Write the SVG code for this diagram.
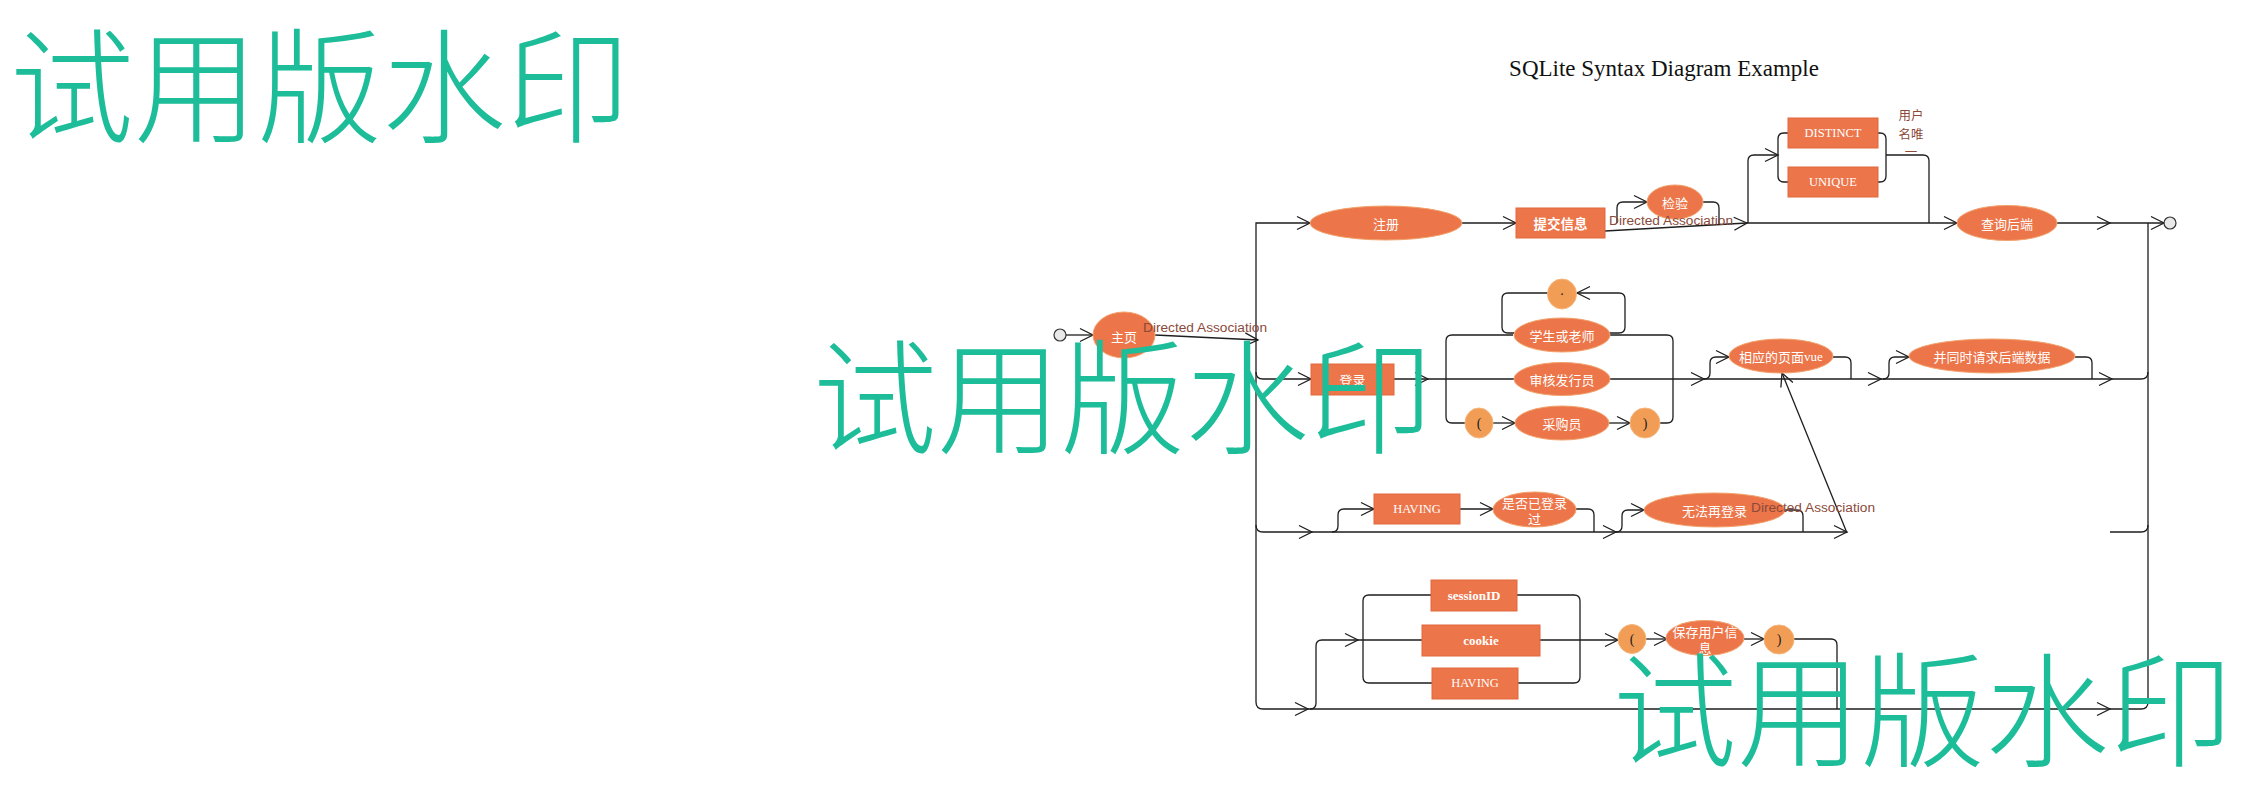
<svg xmlns="http://www.w3.org/2000/svg" width="2245" height="794" viewBox="0 0 2245 794">
<style>
.ln{fill:none;stroke:#1e1e1e;stroke-width:1.3}
.el{fill:#EC754A;stroke:#F2A26C;stroke-width:1}
.sm{fill:#F29D56;stroke:#F5B57A;stroke-width:1}
.rc{fill:#EC754A;stroke:#E2693A;stroke-width:1}
.term{fill:#e9e9e9;stroke:#333;stroke-width:1.2}
.t{font-family:"Noto Sans CJK SC","Noto Sans",sans-serif;font-size:13px;fill:#fff;text-anchor:middle;dominant-baseline:central}
.tbd{font-family:"Noto Sans CJK SC","Noto Sans",sans-serif;font-size:13.5px;font-weight:bold;fill:#fff;text-anchor:middle;dominant-baseline:central}
.ts{font-family:"Liberation Serif",serif;font-size:12.5px;fill:#fff;text-anchor:middle;dominant-baseline:central}
.tb{font-family:"Liberation Serif",serif;font-size:13px;font-weight:bold;fill:#fff;text-anchor:middle;dominant-baseline:central}
.pd{font-family:"Liberation Serif",serif;font-size:14px;fill:#222;text-anchor:middle;dominant-baseline:central}
.lb{font-family:"Liberation Sans",sans-serif;font-size:13.7px;fill:#8B4A3A;dominant-baseline:central}
.lbc{font-family:"Noto Sans CJK SC",sans-serif;font-size:12.5px;fill:#8B4A3A;text-anchor:middle;dominant-baseline:central}
.title{font-family:"Liberation Serif",serif;font-size:23px;fill:#111;text-anchor:middle}
.wm{font-family:"Noto Sans CJK SC",sans-serif;font-size:124px;font-weight:300;fill:#1DBD9A}
</style>
<defs>
<path id="ah" d="M-13,-6.5 L0,0 L-13,6.5" class="ln"/>
</defs>
<rect width="2245" height="794" fill="#fff"/>
<text class="title" x="1664" y="76">SQLite Syntax Diagram Example</text>

<g id="connectors">
<!-- start -->
<path class="ln" d="M1066,335 L1093,335"/>
<use href="#ah" x="1093" y="335"/>
<path class="ln" d="M1155,335 L1258,340"/>
<use href="#ah" transform="translate(1258,340) rotate(2.8)"/>
<!-- buses -->
<path class="ln" d="M1310,223 L1256,223 L1256,702 Q1256,709 1263,709 L2141,709 Q2148,709 2148,702 L2148,223"/>
<!-- row 1 -->
<use href="#ah" x="1310" y="223"/>
<path class="ln" d="M1462,223 L1516,223"/>
<use href="#ah" x="1516" y="223"/>
<path class="ln" d="M1605,231 L1747,223"/>
<use href="#ah" transform="translate(1747,223) rotate(-3.2)"/>
<path class="ln" d="M1617,223 L1617,208 Q1617,202 1623,202 L1647,202"/>
<use href="#ah" x="1647" y="202"/>
<path class="ln" d="M1703,202 L1713,202 Q1719,202 1719,208 L1719,224"/>
<path class="ln" d="M1747,223 L1957,223"/>
<use href="#ah" x="1957" y="223"/>
<path class="ln" d="M1748,223 L1748,161 Q1748,155 1754,155 L1778,155"/>
<use href="#ah" x="1778" y="155"/>
<path class="ln" d="M1788,133 L1784,133 Q1778,133 1778,139 L1778,176 Q1778,182 1784,182 L1788,182"/>
<path class="ln" d="M1878,133 L1880,133 Q1886,133 1886,139 L1886,176 Q1886,182 1880,182 L1878,182"/>
<path class="ln" d="M1886,155 L1923,155 Q1929,155 1929,161 L1929,223"/>
<path class="ln" d="M2057,223 L2164,223"/>
<use href="#ah" x="2110" y="223"/>
<use href="#ah" x="2164" y="223"/>
<!-- row 2 -->
<path class="ln" d="M1256,372 Q1256,379 1263,379 L2141,379 Q2148,379 2148,372"/>
<use href="#ah" x="1311" y="379"/>
<use href="#ah" x="1428" y="379"/>
<path class="ln" d="M1513,335 L1452,335 Q1446,335 1446,341 L1446,417 Q1446,423 1452,423 L1465,423"/>
<path class="ln" d="M1610,335 L1667,335 Q1673,335 1673,341 L1673,417 Q1673,423 1667,423 L1660,423"/>
<path class="ln" d="M1514,333 L1508,333 Q1502,333 1502,327 L1502,299 Q1502,293 1508,293 L1548,293"/>
<path class="ln" d="M1577,293 L1619,293 Q1625,293 1625,299 L1625,327 Q1625,333 1619,333 L1609,333"/>
<use href="#ah" transform="translate(1577,293) rotate(180)"/>
<path class="ln" d="M1493,423 L1515,423"/>
<use href="#ah" x="1515" y="423"/>
<path class="ln" d="M1609,423 L1630,423"/>
<use href="#ah" x="1630" y="423"/>
<use href="#ah" x="1704" y="379"/>
<path class="ln" d="M1704,379 Q1710,379 1710,373 L1710,363 Q1710,357 1716,357 L1729,357"/>
<use href="#ah" x="1729" y="357"/>
<path class="ln" d="M1833,357 L1845,357 Q1851,357 1851,363 L1851,379"/>
<use href="#ah" x="1881" y="379"/>
<path class="ln" d="M1883,379 Q1889,379 1889,373 L1889,363 Q1889,357 1895,357 L1909,357"/>
<use href="#ah" x="1909" y="357"/>
<path class="ln" d="M2075,357 L2086,357 Q2092,357 2092,363 L2092,379"/>
<use href="#ah" x="2112" y="379"/>
<!-- row 3 -->
<path class="ln" d="M1256,525 Q1256,532 1263,532 L1847,532"/>
<use href="#ah" x="1312" y="532"/>
<path class="ln" d="M1332,532 Q1338,532 1338,526 L1338,515 Q1338,509 1344,509 L1374,509"/>
<use href="#ah" x="1374" y="509"/>
<path class="ln" d="M1460,509 L1493,509"/>
<use href="#ah" x="1493" y="509"/>
<path class="ln" d="M1576,509 L1588,509 Q1594,509 1594,515 L1594,532"/>
<use href="#ah" x="1616" y="532"/>
<path class="ln" d="M1616,532 Q1622,532 1622,526 L1622,516 Q1622,510 1628,510 L1644,510"/>
<use href="#ah" x="1644" y="510"/>
<path class="ln" d="M1785,510 L1797,510 Q1803,510 1803,516 L1803,532"/>
<use href="#ah" x="1847" y="532"/>
<path class="ln" d="M1847,533 L1782,373"/>
<use href="#ah" transform="translate(1782,373) rotate(-112.1)"/>
<path class="ln" d="M2110,532 L2141,532 Q2148,532 2148,525"/>
<!-- row 4 -->
<use href="#ah" x="1308" y="709"/>
<path class="ln" d="M1310,709 Q1316,709 1316,703 L1316,646 Q1316,640 1322,640 L1422,640"/>
<use href="#ah" x="1358" y="640"/>
<path class="ln" d="M1431,595 L1369,595 Q1363,595 1363,601 L1363,677 Q1363,683 1369,683 L1432,683"/>
<path class="ln" d="M1517,595 L1574,595 Q1580,595 1580,601 L1580,677 Q1580,683 1574,683 L1518,683"/>
<path class="ln" d="M1540,640 L1618,640"/>
<use href="#ah" x="1618" y="640"/>
<path class="ln" d="M1646,639 L1667,639"/>
<use href="#ah" x="1667" y="639"/>
<path class="ln" d="M1744,639 L1764,639"/>
<use href="#ah" x="1764" y="639"/>
<path class="ln" d="M1794,639 L1831,639 Q1837,639 1837,645 L1837,709"/>
<use href="#ah" x="2110" y="709"/>
</g>

<g id="start"><circle class="term" cx="1060" cy="335" r="6"/></g>
<g id="end"><circle class="term" cx="2170" cy="223" r="6"/></g>

<g id="n-zhuye"><ellipse class="el" cx="1124" cy="335" rx="31" ry="23"/><text class="t" x="1124" y="336">主页</text></g>
<g id="n-zhuce"><ellipse class="el" cx="1386" cy="223" rx="76" ry="17"/><text class="t" x="1386" y="223">注册</text></g>
<g id="n-tijiao"><rect class="rc" x="1516" y="208" width="89" height="30"/><text class="tbd" x="1560.5" y="223">提交信息</text></g>
<g id="n-jianyan"><ellipse class="el" cx="1675" cy="202" rx="28" ry="17"/><text class="t" x="1675" y="202">检验</text></g>
<g id="n-distinct"><rect class="rc" x="1788" y="118" width="90" height="30"/><text class="ts" x="1833" y="133">DISTINCT</text></g>
<g id="n-unique"><rect class="rc" x="1788" y="167" width="90" height="30"/><text class="ts" x="1833" y="182">UNIQUE</text></g>
<g id="n-chaxun"><ellipse class="el" cx="2007" cy="223" rx="50" ry="17.5"/><text class="t" x="2007" y="223">查询后端</text></g>

<g id="n-denglu"><rect class="rc" x="1311" y="364" width="83" height="31"/><text class="t" x="1352.5" y="379">登录</text></g>
<g id="n-dot"><ellipse class="sm" cx="1562" cy="294" rx="14.5" ry="15"/><text class="pd" x="1562" y="290">.</text></g>
<g id="n-xuesheng"><ellipse class="el" cx="1562" cy="335" rx="48" ry="17"/><text class="t" x="1562" y="335">学生或老师</text></g>
<g id="n-shenhe"><ellipse class="el" cx="1562" cy="379" rx="48" ry="16.5"/><text class="t" x="1562" y="379">审核发行员</text></g>
<g id="n-lp1"><ellipse class="sm" cx="1479" cy="423" rx="14" ry="15"/><text class="pd" x="1479" y="423">(</text></g>
<g id="n-caigou"><ellipse class="el" cx="1562" cy="423" rx="47" ry="17"/><text class="t" x="1562" y="423">采购员</text></g>
<g id="n-rp1"><ellipse class="sm" cx="1645" cy="423" rx="15" ry="15"/><text class="pd" x="1645" y="423">)</text></g>
<g id="n-vue"><ellipse class="el" cx="1781" cy="356" rx="52" ry="17"/><text class="t" x="1781" y="356">相应的页面<tspan font-family="Liberation Serif, serif">vue</tspan></text></g>
<g id="n-bingtong"><ellipse class="el" cx="1992" cy="356" rx="83" ry="17"/><text class="t" x="1992" y="356">并同时请求后端数据</text></g>

<g id="n-having1"><rect class="rc" x="1374" y="494" width="86" height="30"/><text class="ts" x="1417" y="509">HAVING</text></g>
<g id="n-shifou"><ellipse class="el" cx="1534.5" cy="509.5" rx="41.5" ry="17.5"/><text class="t" x="1534.5" y="502">是否已登录</text><text class="t" x="1534.5" y="518">过</text></g>
<g id="n-wufa"><ellipse class="el" cx="1714.5" cy="510" rx="70.5" ry="17"/><text class="t" x="1714.5" y="510">无法再登录</text></g>

<g id="n-session"><rect class="rc" x="1431" y="580" width="86" height="31"/><text class="tb" x="1474" y="595">sessionID</text></g>
<g id="n-cookie"><rect class="rc" x="1422" y="625" width="118" height="31"/><text class="tb" x="1481" y="640">cookie</text></g>
<g id="n-having2"><rect class="rc" x="1432" y="668" width="86" height="31"/><text class="ts" x="1475" y="683">HAVING</text></g>
<g id="n-lp2"><ellipse class="sm" cx="1632" cy="639" rx="14" ry="14.5"/><text class="pd" x="1632" y="639">(</text></g>
<g id="n-baocun"><ellipse class="el" cx="1705" cy="638" rx="39" ry="17.5"/><text class="t" x="1705" y="631">保存用户信</text><text class="t" x="1705" y="647">息</text></g>
<g id="n-rp2"><ellipse class="sm" cx="1779" cy="639.5" rx="15" ry="14.5"/><text class="pd" x="1779" y="639">)</text></g>

<g id="labels">
<text class="lb" x="1143" y="327">Directed Association</text>
<text class="lb" x="1609" y="220">Directed Association</text>
<text class="lb" x="1751" y="507">Directed Association</text>
<text class="lbc" x="1911" y="114">用户</text>
<text class="lbc" x="1911" y="133">名唯</text>
<text class="lbc" x="1911" y="151">一</text>
</g>

<g id="watermarks">
<text class="wm" x="10" y="133">试用版水印</text>
<text class="wm" x="813" y="444">试用版水印</text>
<text class="wm" x="1613" y="757">试用版水印</text>
</g>
</svg>
